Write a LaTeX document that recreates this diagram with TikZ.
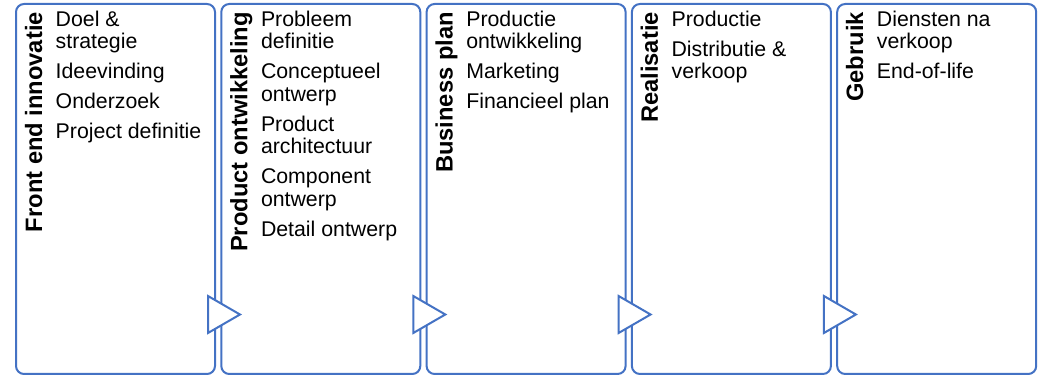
\documentclass[tikz,border=0pt]{standalone}
\usepackage{fontspec}
\setmainfont{Liberation Sans}
\usetikzlibrary{calc}
\definecolor{myblue}{HTML}{4472C4}
\tikzset{
  box/.style={draw=myblue, line width=2pt, rounded corners=8pt, minimum width=199pt, minimum height=370pt, inner sep=0pt, fill=white},
  title/.style={font=\bfseries\fontsize{23.7}{28}\selectfont, inner sep=0pt, rotate=90, anchor=base east},
  body/.style={font=\fontsize{21.3}{22.5}\selectfont, align=left, inner sep=0pt, anchor=north west},
  tri/.style={draw=myblue, line width=2pt, fill=white, line join=miter}
}
\begin{document}
\begin{tikzpicture}[x=1pt,y=1pt]
\useasboundingbox (0,0) rectangle (1038,377);
\node[box] (b1) at (115.5,188) {};
\node[box] (b2) at (320.8,188) {};
\node[box] (b3) at (526.1,188) {};
\node[box] (b4) at (731.4,188) {};
\node[box] (b5) at (936.7,188) {};
\foreach \a/\b in {b1/b2,b2/b3,b3/b4,b4/b5}{
  \draw[tri] ($(\a.south east)+(-8,79)$) -- ($(\a.south east)+(24,60.5)$) -- ($(\a.south east)+(-8,42)$) -- cycle;
}
\node[title] (t1) at ($(b1.north west)+(27,-9)$) {Front end innovatie};
\node[title] (t2) at ($(b2.north west)+(27,-9)$) {Product ontwikkeling};
\node[title] (t3) at ($(b3.north west)+(27,-9)$) {Business plan};
\node[title] (t4) at ($(b4.north west)+(27,-9)$) {Realisatie};
\node[title] (t5) at ($(b5.north west)+(27,-9)$) {Gebruik};
\node[body] (x1) at ($(b1.north west)+(40.5,-7.25)$) {\strut Doel \&\\strategie\\[7.5pt]Ideevinding\\[7.5pt]Onderzoek\\[7.5pt]Project definitie};
\node[body] (x2) at ($(b2.north west)+(40.5,-7.25)$) {\strut Probleem\\definitie\\[7.5pt]Conceptueel\\ontwerp\\[7.5pt]Product\\architectuur\\[7.5pt]Component\\ontwerp\\[7.5pt]Detail ontwerp};
\node[body] (x3) at ($(b3.north west)+(40.5,-7.25)$) {\strut Productie\\ontwikkeling\\[7.5pt]Marketing\\[7.5pt]Financieel plan};
\node[body] (x4) at ($(b4.north west)+(40.5,-7.25)$) {\strut Productie\\[7.5pt]Distributie \&\\verkoop};
\node[body] (x5) at ($(b5.north west)+(40.5,-7.25)$) {\strut Diensten na\\verkoop\\[7.5pt]End-of-life};
\end{tikzpicture}
\end{document}
